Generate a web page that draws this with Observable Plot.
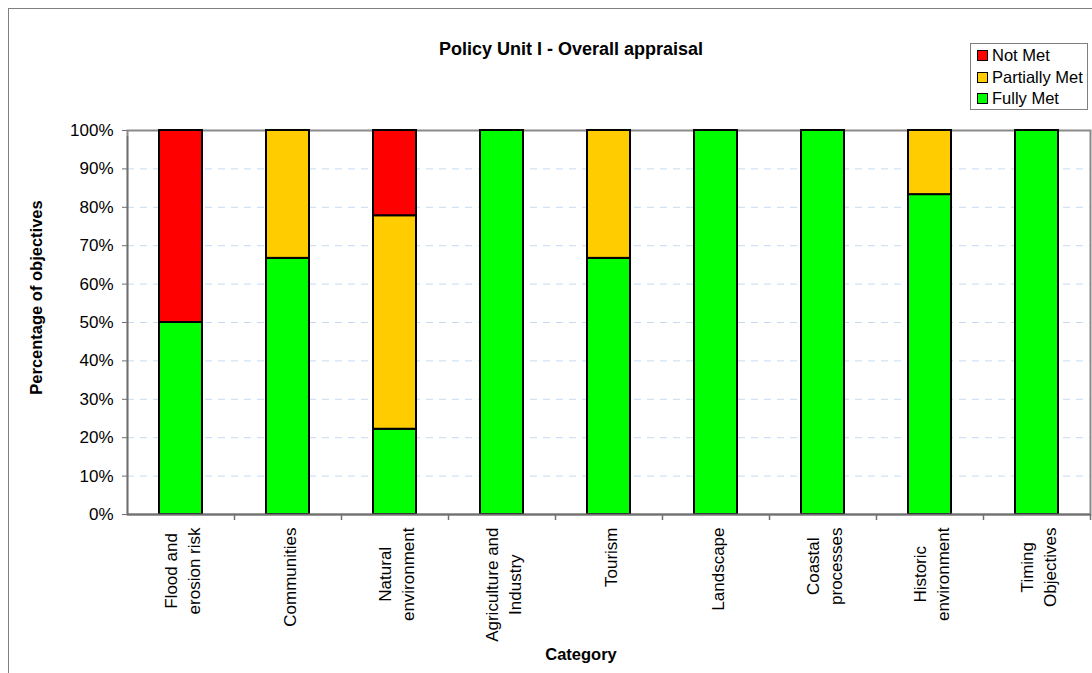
<!DOCTYPE html>
<html>
<head>
<meta charset="utf-8">
<script src="https://cdn.jsdelivr.net/npm/d3@7"></script>
<script src="https://cdn.jsdelivr.net/npm/@observablehq/plot@0.6"></script>
<style>
  html, body { margin: 0; padding: 0; overflow: hidden; background: #fff; }
  #chart { position: relative; width: 1092px; height: 673px; font-family: "Liberation Sans", Arial, sans-serif; }
  #border { position: absolute; left: 8px; top: 8px; width: 1200px; height: 800px; border: 1.5px solid #808080; box-sizing: border-box; }
  #plot { position: absolute; left: 0; top: 0; }
  #legend { position: absolute; left: 970px; top: 43px; width: 118px; height: 67px; border: 1px solid #808080; box-sizing: border-box; background: #fff; padding: 1px 0 0 6px; }
  .item { display: flex; align-items: center; height: 21.5px; font-size: 16.5px; color: #000; }
  .sw { width: 9px; height: 9px; border: 1.5px solid #000; margin-right: 4px; flex: none; }
</style>
</head>
<body>
<div id="chart">
  <div id="border"></div>
  <div id="plot"></div>
  <div id="legend"></div>
</div>
<script>
// Appraisal categories (line breaks as printed under the axis)
const categories = [
  "Flood and\nerosion risk",
  "Communities",
  "Natural\nenvironment",
  "Agriculture and\nIndustry",
  "Tourism",
  "Landscape",
  "Coastal\nprocesses",
  "Historic\nenvironment",
  "Timing\nObjectives"
];

// Share of objectives (%) per category for each outcome
const fullyMet     = [50, 66.7, 22.2, 100, 66.7, 100, 100, 83.3, 100];
const partiallyMet = [0, 33.3, 55.6, 0, 33.3, 0, 0, 16.7, 0];
const notMet       = [50, 0, 22.2, 0, 0, 0, 0, 0, 0];

const outcomes = ["Fully Met", "Partially Met", "Not Met"];
const outcomeColors = ["#00ff00", "#ffcc00", "#ff0000"];
const legendOrder = ["Not Met", "Partially Met", "Fully Met"];

const yTicks = [0, 10, 20, 30, 40, 50, 60, 70, 80, 90, 100];
const gridTicks = [10, 20, 30, 40, 50, 60, 70, 80, 90];

const title = "Policy Unit I - Overall appraisal";
const yLabel = "Percentage of objectives";
const xLabel = "Category";

// Long table for the stacked bars
const seriesValues = [fullyMet, partiallyMet, notMet];
const rows = [];
outcomes.forEach((o, s) => {
  categories.forEach((c, i) => rows.push({category: c, outcome: o, value: seriesValues[s][i]}));
});

const W = 1092, H = 673;
const mL = 127, mR = 2, mT = 130, mB = 159;
const step = (W - mL - mR) / categories.length;
const fontFamily = "'Liberation Sans', Arial, sans-serif";

const svg = Plot.plot({
  width: W,
  height: H,
  marginLeft: mL,
  marginRight: mR,
  marginTop: mT,
  marginBottom: mB,
  style: {fontFamily, fontSize: "17px", color: "#000", background: "transparent"},
  x: {domain: categories, paddingInner: 0.6, paddingOuter: 0.3, label: null},
  y: {domain: [0, 100], label: null},
  color: {domain: outcomes, range: outcomeColors},
  marks: [
    Plot.gridY(gridTicks, {stroke: "#c6dbf2", strokeOpacity: 1, strokeWidth: 1, strokeDasharray: "7,6"}),
    Plot.frame({stroke: "#8a8a8a", strokeWidth: 2}),
    Plot.barY(rows, Plot.stackY({order: outcomes}, {
      x: "category", y: "value", fill: "outcome",
      stroke: "#000", strokeWidth: 2, filter: d => d.value > 0
    })),
    // axis lines and category boundary ticks
    Plot.ruleY([0], {stroke: "#707070", strokeWidth: 2}),
    Plot.ruleX(categories, {x: d => d, y1: 0, y2: 100, dx: -step / 2, stroke: "#707070", strokeWidth: 1.5,
      filter: (d, i) => i === 0, insetBottom: -6}),
    Plot.ruleX(categories, {x: d => d, y1: 0, y2: 0, dx: -step / 2, stroke: "#707070", strokeWidth: 1.5,
      filter: (d, i) => i > 0, insetBottom: -6}),
    Plot.ruleX(categories, {x: d => d, y1: 0, y2: 0, dx: step / 2, stroke: "#707070", strokeWidth: 1.5,
      filter: (d, i) => i === categories.length - 1, insetBottom: -6}),
    Plot.axisY({ticks: yTicks, tickFormat: d => d + "%", tickSize: 5, tickPadding: 9, stroke: "#707070", fontSize: 17}),
    Plot.axisX({tickSize: 0, tickPadding: 13, tickRotate: -90, fontSize: 17, lineHeight: 1.38}),
    Plot.text([title], {frameAnchor: "top", dy: -88, dx: -38, fontWeight: "bold", fontSize: 18}),
    Plot.text([yLabel], {frameAnchor: "left", dx: -91, dy: -25, rotate: -90, textAnchor: "middle", fontWeight: "bold", fontSize: 16.5}),
    Plot.text([xLabel], {frameAnchor: "bottom", dx: -28, dy: 145, fontWeight: "bold", fontSize: 16.5})
  ]
});

document.getElementById("plot").appendChild(svg);

// Centre the lines of each rotated category label on one another,
// keeping the top of each block just under the axis.
svg.querySelectorAll('g[aria-label="x-axis tick label"] text').forEach(t => {
  const spans = t.querySelectorAll("tspan");
  if (spans.length < 2) return;
  let maxLen = 0;
  spans.forEach(s => { maxLen = Math.max(maxLen, s.getComputedTextLength()); });
  const anchor = t.getAttribute("text-anchor") || t.parentNode.getAttribute("text-anchor");
  const sign = anchor === "start" ? 1 : -1;
  t.setAttribute("text-anchor", "middle");
  spans.forEach(s => s.setAttribute("x", sign * maxLen / 2));
});

// Legend
const legend = document.getElementById("legend");
legendOrder.forEach(o => {
  const item = document.createElement("div");
  item.className = "item";
  const sw = document.createElement("span");
  sw.className = "sw";
  sw.style.background = outcomeColors[outcomes.indexOf(o)];
  const label = document.createElement("span");
  label.textContent = o;
  item.appendChild(sw);
  item.appendChild(label);
  legend.appendChild(item);
});
</script>
</body>
</html>
